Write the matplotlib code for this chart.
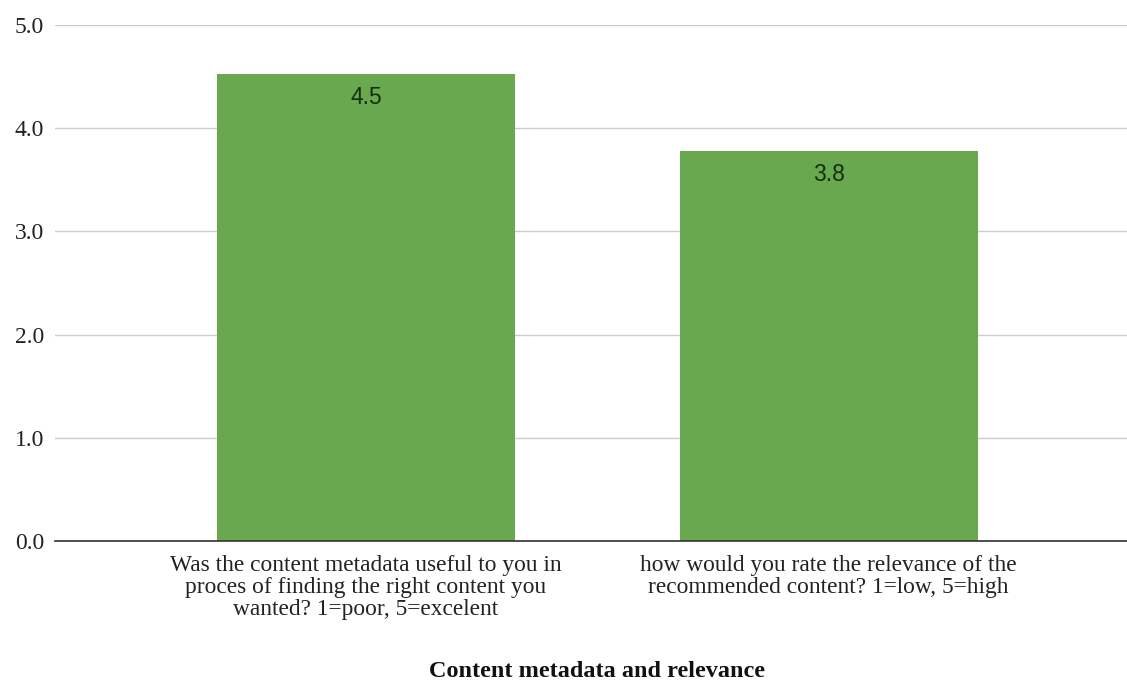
import matplotlib
matplotlib.use('Agg')
import matplotlib.pyplot as plt

# Survey averages
questions = [
    "Was the content metadata useful to you in\nproces of finding the right content you\nwanted? 1=poor, 5=excelent",
    "how would you rate the relevance of the\nrecommended content? 1=low, 5=high",
]
scores = [4.53, 3.78]
y_ticks = [0.0, 1.0, 2.0, 3.0, 4.0, 5.0]
x_title = "Content metadata and relevance"

fig = plt.figure(figsize=(11.27, 6.82), dpi=100)
ax = fig.add_axes([0.0488, 0.2067, 0.9512, 0.7566])

positions = list(range(len(questions)))
bars = ax.bar(positions, scores, width=0.644, color='#6aa84f', zorder=2)

# value labels just inside the top of each bar
for rect, val in zip(bars, scores):
    ax.text(rect.get_x() + rect.get_width() / 2, val - 0.23, f"{val:.1f}",
            ha='center', va='center', fontsize=16.5, color='#12300c',
            family='Liberation Sans')

ax.set_xlim(-0.672, 1.645)
ax.set_ylim(0, 5.0)
ax.set_yticks(y_ticks)
ax.set_yticklabels([f"{t:.1f}" for t in y_ticks], family='Liberation Serif',
                   fontsize=17, color='#222222')
ax.set_xticks(positions)
ax.set_xticklabels(questions, family='Liberation Serif', fontsize=16.8,
                   color='#222222', linespacing=1.05)
ax.tick_params(axis='both', length=0)
ax.tick_params(axis='y', pad=8)
ax.tick_params(axis='x', pad=10)

ax.yaxis.grid(True, color='#cccccc', linewidth=1, zorder=0)
for side in ['top', 'right', 'left']:
    ax.spines[side].set_visible(False)
ax.spines['bottom'].set_color('#333333')
ax.spines['bottom'].set_linewidth(1.2)
ax.spines['bottom'].set_zorder(3)

fig.text(0.53, 0.016, x_title, ha='center', va='center', family='Liberation Serif',
         fontsize=17.5, fontweight='bold', color='#111111')

fig.savefig('out.png', dpi=100, facecolor='white')
